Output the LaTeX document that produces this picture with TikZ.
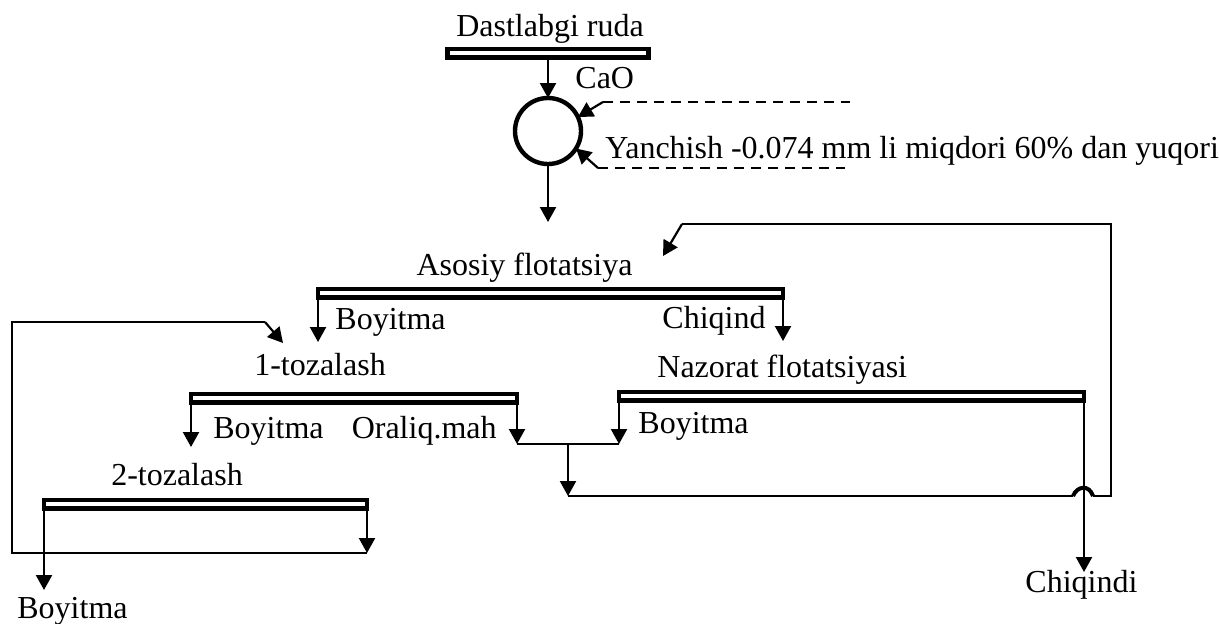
\documentclass[tikz,border=0pt]{standalone}
\usepackage{fontspec}
\setmainfont{Liberation Serif}
\usetikzlibrary{arrows.meta}
\begin{document}
\begin{tikzpicture}[x=0.5pt,y=-0.5pt,
  font=\fontsize{16pt}{19pt}\selectfont,
  lbl/.style={inner sep=0pt},
  bar/.style={draw, line width=2.25pt, minimum height=4.25pt, inner sep=0pt, outer sep=0pt, fill=white},
  flow/.style={line width=1.1pt},
  arr/.style={flow, -{Triangle[length=7.5pt,width=8pt]}},
  dsh/.style={line width=1.1pt, dash pattern=on 5pt off 3.5pt}]
\useasboundingbox (0,0) rectangle (1219,623);

% bars
\node[bar, minimum width=100.5pt] (b0) at (548,53) {};
\node[bar, minimum width=232.5pt] (b1) at (550.5,293) {};
\node[bar, minimum width=163pt] (b2) at (354,398) {};
\node[bar, minimum width=232.5pt] (b3) at (851.5,396) {};
\node[bar, minimum width=161.5pt] (b4) at (205.5,504) {};

% mill
\node[draw, circle, line width=2.2pt, minimum size=33pt, inner sep=0pt, outer sep=0pt] (mill) at (548,131) {};

% labels
\node[lbl, anchor=base] (t0) at (550,36) {Dastlabgi ruda};
\node[lbl, anchor=base west] (tcao) at (575,88) {CaO};
\node[lbl, anchor=base west] (tyan) at (605,158) {Yanchish -0.074 mm li miqdori 60\% dan yuqori};
\node[lbl, anchor=base] (t1) at (524.5,275) {Asosiy flotatsiya};
\node[lbl, anchor=base west] (tb1) at (335,329) {Boyitma};
\node[lbl, anchor=base west] (tc1) at (662,328) {Chiqind};
\node[lbl, anchor=base] (t2) at (320,375) {1-tozalash};
\node[lbl, anchor=base west] (t3) at (657,377) {Nazorat flotatsiyasi};
\node[lbl, anchor=base west] (tb2) at (213,438) {Boyitma};
\node[lbl, anchor=base east] (tor) at (497,438) {Oraliq.mah};
\node[lbl, anchor=base west] (tb3) at (638,433) {Boyitma};
\node[lbl, anchor=base] (t4) at (177,485) {2-tozalash};
\node[lbl, anchor=base west] (tb4) at (17,618) {Boyitma};
\node[lbl, anchor=base west] (tc2) at (1025,592) {Chiqindi};

% coordinates
\coordinate (feed) at (548,222);
\coordinate (d1s) at (603,102);
\coordinate (d1e) at (850,102);
\coordinate (d2s) at (598,168);
\coordinate (d2e) at (845,168);
\coordinate (a1l) at (318,342);
\coordinate (a1r) at (783,341);
\coordinate (a2l) at (191,447);
\coordinate (a2r) at (517,444);
\coordinate (a3l) at (619,444);
\coordinate (jm) at (568,444);
\coordinate (jd) at (568,496);
\coordinate (j1) at (1073,496);
\coordinate (j2) at (1093,496);
\coordinate (rr) at (1111,496);
\coordinate (rt) at (1111,224);
\coordinate (rk) at (682,224);
\coordinate (rtip) at (663,256);
\coordinate (a3r) at (1084,572);
\coordinate (a4l) at (44,590);
\coordinate (a4r) at (367,553);
\coordinate (lb) at (12,553);
\coordinate (lt) at (12,322);
\coordinate (lk) at (265,322);
\coordinate (ltip) at (283,343);

% connectors
\draw[arr] (b0.south) -- (mill.north);
\draw[arr] (mill.south) -- (feed);
\draw[dsh] (d1s) -- (d1e);
\draw[dsh] (d2s) -- (d2e);
\draw[arr] (d1s) -- (mill.25);
\draw[arr] (d2s) -- (mill.-32);
\draw[arr] (b1.south west) -- (a1l);
\draw[arr] (b1.south east) -- (a1r);
\draw[arr] (b2.south west) -- (a2l);
\draw[arr] (b2.south east) -- (a2r);
\draw[arr] (b3.south west) -- (a3l);
\draw[flow] (a2r) -- (a3l);
\draw[arr] (jm) -- (jd);
\draw[flow] (jd) -- (j1);
\draw[line width=2pt] (j1) .. controls (1077,486) and (1089,484) .. (j2);
\draw[flow] (j2) -- (rr) -- (rt) -- (rk);
\draw[arr] (rk) -- (rtip);
\draw[arr] (b3.south east) -- (a3r);
\draw[arr] (b4.south west) -- (a4l);
\draw[arr] (b4.south east) -- (a4r);
\draw[flow] (a4r) -- (lb) -- (lt) -- (lk);
\draw[arr] (lk) -- (ltip);
\end{tikzpicture}
\end{document}
